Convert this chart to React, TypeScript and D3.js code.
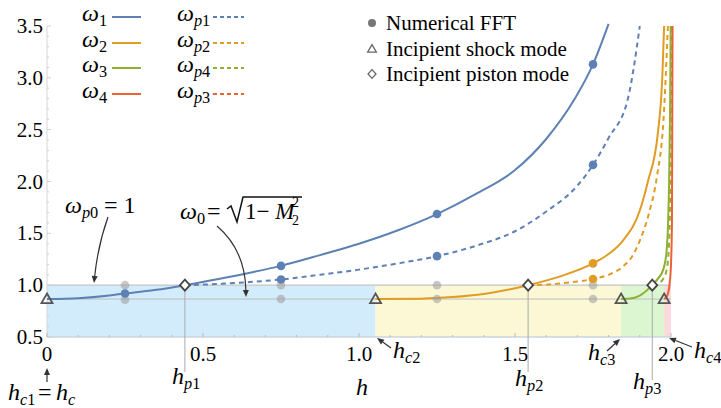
import React from 'react';
import * as d3 from 'd3';

const W = 721;
const H = 408;

// curve samples: [h, omega]
const omega1 = [[0, 0.866], [0.1, 0.874], [0.2, 0.9], [0.25, 0.92], [0.35, 0.955], [0.442, 1.0], [0.55, 1.06], [0.65, 1.12], [0.75, 1.186], [0.875, 1.29], [1.0, 1.4], [1.125, 1.53], [1.25, 1.686], [1.375, 1.88], [1.5, 2.11], [1.6, 2.41], [1.69, 2.79], [1.75, 3.13], [1.8, 3.52]];
const omegaP1 = [[0.442, 1.0], [0.55, 1.012], [0.65, 1.03], [0.75, 1.055], [0.875, 1.1], [1.0, 1.15], [1.125, 1.21], [1.25, 1.28], [1.375, 1.38], [1.5, 1.52], [1.6, 1.71], [1.7, 1.96], [1.75, 2.16], [1.8, 2.42], [1.862, 2.8], [1.9, 3.5]];
const omega2 = [[1.053, 0.866], [1.2, 0.87], [1.3, 0.885], [1.4, 0.915], [1.542, 1.0], [1.65, 1.09], [1.75, 1.21], [1.8, 1.3], [1.846, 1.43], [1.9, 1.72], [1.926, 2.0], [1.958, 2.47], [1.972, 3.0], [1.978, 3.5]];
const omegaP2 = [[1.542, 1.0], [1.6, 1.005], [1.65, 1.018], [1.7, 1.035], [1.75, 1.06], [1.8, 1.1], [1.846, 1.18], [1.88, 1.3], [1.9, 1.43], [1.93, 1.7], [1.955, 2.05], [1.976, 2.6], [1.99, 3.5]];
const omega3 = [[1.84, 0.866], [1.87, 0.872], [1.9, 0.9], [1.94, 1.0], [1.96, 1.07], [1.975, 1.15], [1.985, 1.3], [1.99, 1.55], [1.994, 2.0], [1.997, 2.7], [1.999, 3.5]];
const omegaP4 = [[1.94, 1.0], [1.96, 1.02], [1.975, 1.06], [1.986, 1.15], [1.993, 1.35], [1.997, 1.8], [1.999, 2.5], [2.001, 3.5]];
const omega4 = [[1.978, 0.866], [1.988, 0.9], [1.995, 1.0], [2.0, 1.2], [2.003, 1.6], [2.004, 2.5], [2.005, 3.5]];

// numerical FFT points
const fftBlue = [[0.25, 0.92], [0.75, 1.186], [1.25, 1.686], [1.75, 3.13], [0.75, 1.055], [1.25, 1.28], [1.75, 2.16]];
const fftOrange = [[1.75, 1.21], [1.75, 1.06]];
const fftGray = [[0.25, 1.0], [0.25, 0.86], [0.75, 1.0], [0.75, 0.866], [1.25, 1.0], [1.25, 0.866], [1.75, 1.0], [1.75, 0.866]];

const omega0 = 0.866;
const hc = [0, 1.053, 1.84, 1.978];
const hp = [0.442, 1.542, 1.94];

const xTicks = ['0', '0.5', '1.0', '1.5', '2.0'];
const yTicks = ['0.5', '1.0', '1.5', '2.0', '2.5', '3.0', '3.5'];

const BLUE = '#5E81B5';
const ORANGE = '#E19C24';
const GREEN = '#8FB032';
const RED = '#EB6235';
const FONT = 'Liberation Serif';

const x = d3.scaleLinear().domain([0, 2]).range([47, 671]);
const y = d3.scaleLinear().domain([0.5, 3.5]).range([337, 26]);
const line = d3.line<number[]>().x(d => x(d[0])).y(d => y(d[1])).curve(d3.curveMonotoneX);

const Sym = ({ px, py, base, sub, size = 24 }: any) => (
  <text x={px} y={py} fontFamily={FONT} fontSize={size}>
    <tspan fontStyle="italic">{base}</tspan>
    <tspan dy={5} fontSize={size * 0.68}>
      {sub.split('').map((c: string, i: number) => (
        <tspan key={i} fontStyle={/[a-z]/.test(c) ? 'italic' : 'normal'}>{c}</tspan>
      ))}
    </tspan>
  </text>
);

// arrow: path from (x1,y1) to (x2,y2), optional quadratic control (qx,qy)
const Arrow = ({ x1, y1, x2, y2, qx, qy }: any) => {
  const cx = qx ?? x1;
  const cy = qy ?? y1;
  const a = Math.atan2(y2 - cy, x2 - cx);
  const L = 7, w = 3;
  const bx = x2 - L * Math.cos(a), by = y2 - L * Math.sin(a);
  const head = `M${x2},${y2}L${bx + w * Math.sin(a)},${by - w * Math.cos(a)}L${bx - w * Math.sin(a)},${by + w * Math.cos(a)}Z`;
  const d = qx != null ? `M${x1},${y1}Q${qx},${qy} ${bx},${by}` : `M${x1},${y1}L${bx},${by}`;
  return (
    <g>
      <path d={d} fill="none" stroke="#333" strokeWidth={1.2} />
      <path d={head} fill="#333" />
    </g>
  );
};

const tri = (cx: number, cy: number) => `M${cx},${cy - 5.5}L${cx + 5.5},${cy + 4}L${cx - 5.5},${cy + 4}Z`;
const dia = (cx: number, cy: number) => `M${cx},${cy - 5.5}L${cx + 5},${cy}L${cx},${cy + 5.5}L${cx - 5},${cy}Z`;

export default function App() {
  const regions = [
    { a: hc[0], b: hc[1], c: '#d3ecfb' },
    { a: hc[1], b: hc[2], c: '#fcf8d6' },
    { a: hc[2], b: hc[3], c: '#ddf6d2' },
    { a: hc[3], b: 2.0, c: '#fadadd' },
  ];
  const curves = [
    { d: omega1, c: BLUE, dash: '' },
    { d: omegaP1, c: BLUE, dash: '5,4' },
    { d: omega2, c: ORANGE, dash: '' },
    { d: omegaP2, c: ORANGE, dash: '5,4' },
    { d: omega3, c: GREEN, dash: '' },
    { d: omegaP4, c: GREEN, dash: '5,4' },
    { d: omega4, c: RED, dash: '' },
  ];
  const legendL = [
    { s: '1', p: 'p1', c: BLUE },
    { s: '2', p: 'p2', c: ORANGE },
    { s: '3', p: 'p4', c: GREEN },
    { s: '4', p: 'p3', c: RED },
  ];
  const legendRows = [17, 43, 68, 94];
  const minorY = d3.range(0.5, 3.501, 0.1);
  const minorX = d3.range(0, 2.001, 0.1);

  return (
    <svg width={W} height={H} fontFamily={FONT} style={{ position: 'absolute', left: 0, top: 0, background: '#fff' }}>
      {regions.map((r, i) => (
        <rect key={i} x={x(r.a)} y={y(1)} width={x(r.b) - x(r.a)} height={y(0.5) - y(1)} fill={r.c} />
      ))}
      <line x1={x(0)} x2={x(2)} y1={y(1)} y2={y(1)} stroke="#c4c4c4" strokeWidth={1.3} />
      <line x1={x(0)} x2={x(2)} y1={y(omega0)} y2={y(omega0)} stroke="#bdbdbd" strokeWidth={1} />
      <line x1={x(0)} x2={x(2)} y1={y(0.5)} y2={y(0.5)} stroke="#c9d6de" strokeWidth={1.5} />

      {/* axes */}
      <line x1={x(0)} x2={x(0)} y1={y(3.5)} y2={y(0.5)} stroke="#d6d6d6" strokeWidth={1} />
      {minorY.map((v, i) => (
        <line key={i} x1={x(0)} x2={x(0) + (i % 5 === 0 ? 4 : 2)} y1={y(v)} y2={y(v)} stroke="#cfcfcf" />
      ))}
      {minorX.map((v, i) => (
        <line key={i} x1={x(v)} x2={x(v)} y1={y(0.5)} y2={y(0.5) - (i % 5 === 0 ? 4 : 2)} stroke="#bbb" />
      ))}
      {yTicks.map(t => (
        <text key={t} x={43} y={y(+t) + 7} textAnchor="end" fontFamily={FONT} fontSize={21}>{t}</text>
      ))}
      {xTicks.map(t => (
        <text key={t} x={x(+t)} y={361} textAnchor="middle" fontFamily={FONT} fontSize={21}>{t}</text>
      ))}
      <text x={362} y={395} textAnchor="middle" fontFamily={FONT} fontSize={24} fontStyle="italic">h</text>

      {/* piston-mode verticals */}
      {hp.map((h, i) => (
        <line key={i} x1={x(h)} x2={x(h)} y1={y(1)} y2={i === 2 ? 380 : 372} stroke="#aaa" strokeWidth={1} />
      ))}

      {/* curves */}
      {curves.map((c, i) => (
        <path key={i} d={line(c.d as number[][]) || ''} fill="none" stroke={c.c} strokeWidth={2} strokeDasharray={c.dash} />
      ))}

      {fftGray.map((p, i) => (
        <circle key={i} cx={x(p[0])} cy={y(p[1])} r={4.3} fill="#9a9a9a" opacity={0.55} />
      ))}
      {fftBlue.map((p, i) => (
        <circle key={i} cx={x(p[0])} cy={y(p[1])} r={4.3} fill={BLUE} />
      ))}
      {fftOrange.map((p, i) => (
        <circle key={i} cx={x(p[0])} cy={y(p[1])} r={4.3} fill={ORANGE} />
      ))}
      {hc.map((h, i) => (
        <path key={i} d={tri(x(h), y(omega0))} fill="none" stroke="#555" strokeWidth={1.8} />
      ))}
      {hp.map((h, i) => (
        <path key={i} d={dia(x(h), y(1))} fill="#fff" stroke="#444" strokeWidth={1.8} />
      ))}

      {/* left legend */}
      {legendL.map((l, i) => (
        <g key={i}>
          <Sym px={82} py={legendRows[i] + 4} base="ω" sub={l.s} />
          <line x1={112} x2={141} y1={legendRows[i]} y2={legendRows[i]} stroke={l.c} strokeWidth={2} />
          <Sym px={177} py={legendRows[i] + 4} base="ω" sub={l.p} />
          <line x1={213} x2={244} y1={legendRows[i]} y2={legendRows[i]} stroke={l.c} strokeWidth={2} strokeDasharray="4,3" />
        </g>
      ))}

      {/* right legend */}
      <circle cx={372} cy={23} r={4} fill="#777" />
      <path d={tri(372, 49)} fill="none" stroke="#666" strokeWidth={1.6} transform="translate(372,49) scale(0.8) translate(-372,-49)" />
      <path d={dia(372, 74)} fill="#fff" stroke="#666" strokeWidth={1.6} transform="translate(372,74) scale(0.8) translate(-372,-74)" />
      {['Numerical FFT', 'Incipient shock mode', 'Incipient piston mode'].map((t, i) => (
        <text key={t} x={386} y={[30, 56, 81][i]} fontFamily={FONT} fontSize={21}>{t}</text>
      ))}

      {/* annotations */}
      <Sym px={65} py={213} base="ω" sub="p0" />
      <text x={104} y={213} fontFamily={FONT} fontSize={24}>= 1</text>
      <Arrow x1={108} y1={217} qx={98} qy={245} x2={94} y2={283} />

      <Sym px={180} py={219} base="ω" sub="0" />
      <text x={207} y={219} fontFamily={FONT} fontSize={24}>=</text>
      <path d="M227,209 L231,206 L237,222 L243,197 L302,197" fill="none" stroke="#111" strokeWidth={1.5} />
      <text x={245} y={219} fontFamily={FONT} fontSize={23}>1− <tspan fontStyle="italic">M</tspan></text>
      <text x={292} y={207} fontFamily={FONT} fontSize={14}>2</text>
      <text x={292} y={225} fontFamily={FONT} fontSize={14}>2</text>
      <Arrow x1={217} y1={226} qx={245} qy={250} x2={246} y2={297} />

      {/* h labels */}
      <Sym px={8} py={400} base="h" sub="c1" />
      <text x={38} y={400} fontFamily={FONT} fontSize={24}>=</text>
      <Sym px={56} py={400} base="h" sub="c" />
      <Arrow x1={47} y1={382} x2={47} y2={368} />

      <Sym px={172} py={384} base="h" sub="p1" />
      <Sym px={393} py={358} base="h" sub="c2" />
      <Arrow x1={391} y1={348} x2={377} y2={338} />
      <Sym px={515} py={386} base="h" sub="p2" />
      <Sym px={588} py={360} base="h" sub="c3" />
      <Arrow x1={607} y1={351} x2={620} y2={339} />
      <Sym px={633} py={389} base="h" sub="p3" />
      <Sym px={694} py={358} base="h" sub="c4" />
      <Arrow x1={692} y1={347} x2={669} y2={338} />
    </svg>
  );
}
